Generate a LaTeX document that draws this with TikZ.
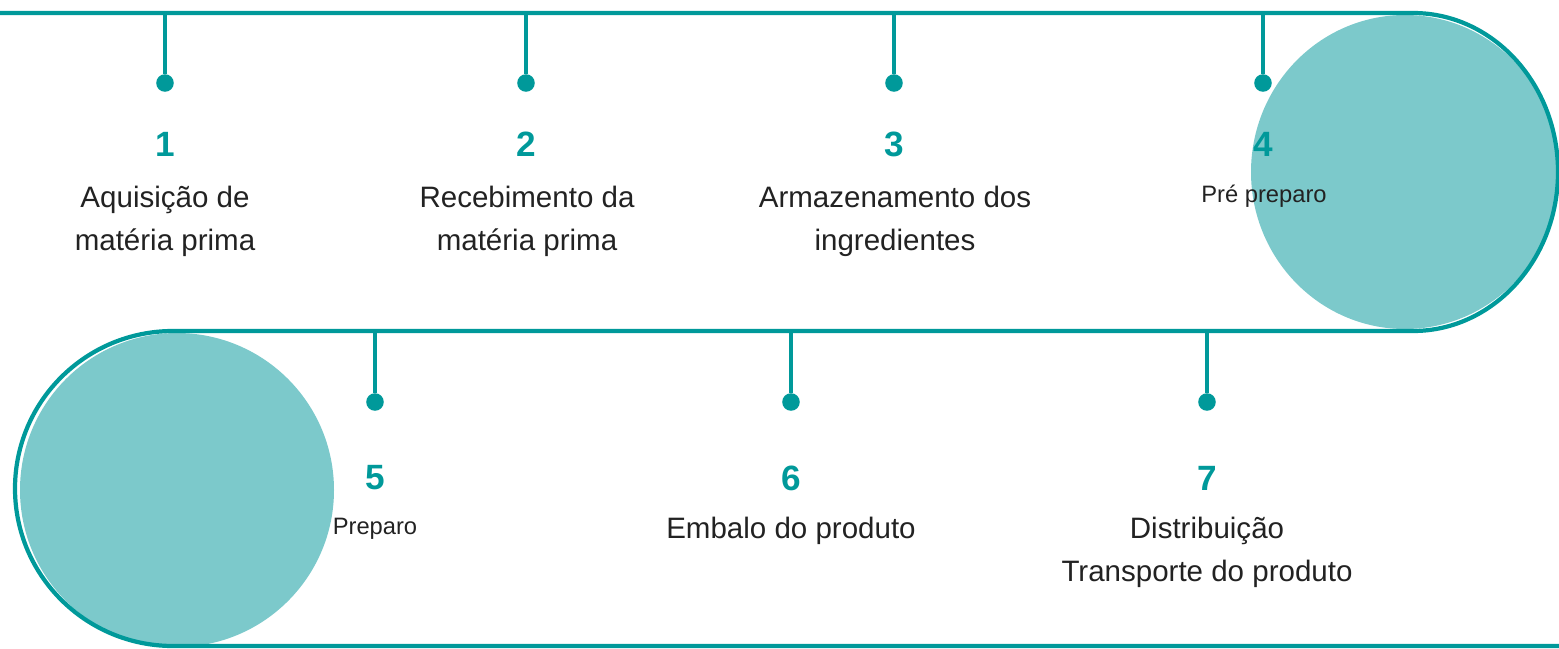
\documentclass[tikz,border=0pt]{standalone}
\usepackage{fontspec}
\setmainfont{Liberation Sans}
\definecolor{tealline}{HTML}{00999A}
\definecolor{tealfill}{HTML}{7CC9CB}
\definecolor{txtgray}{HTML}{222222}

\begin{document}
\begin{tikzpicture}[x=0.02cm, y=0.02cm,
	track/.style={tealline, line width=2.4pt},
	stem/.style={tealline, line width=2.2pt},
	dot/.style={circle, fill=tealline, inner sep=0pt, minimum size=10pt},
	num/.style={text=tealline, font=\fontsize{20}{24}\selectfont\bfseries},
	lbl/.style={text=txtgray, align=center, font=\fontsize{16.8}{24.4}\selectfont},
	smalllbl/.style={text=txtgray, font=\fontsize{13.5}{16}\selectfont}]
		\useasboundingbox (0,0) rectangle (1559,-649);
		\clip (0,0) rectangle (1559,-649);
		%big circles
		\fill[tealfill] (1405,-172) ellipse [x radius=154, y radius=157];
		\fill[tealfill] (177,-490) circle [radius=157];
		
		%track
		\draw[track] (0,-13) -- (1413,-13)
			arc[start angle=90, end angle=-90, x radius=145, y radius=159]
			-- (173,-331)
			arc[start angle=90, end angle=270, x radius=158, y radius=157.5]
			-- (1559,-646);
		
		%upper steps
		\foreach \i/\x in {1/165, 2/526, 3/894, 4/1263}{
			\coordinate (t\i) at (\x,-13);
			\node[dot] (dot\i) at (\x,-83){};
			\draw[stem] (t\i) -- (dot\i);
			\node[num] (num\i) at (\x,-144){\i};
		}
		%lower steps
		\foreach \i/\x in {5/375, 6/791, 7/1207}{
			\coordinate (t\i) at (\x,-332);
			\node[dot] (dot\i) at (\x,-402){};
			\draw[stem] (t\i) -- (dot\i);
			\node[num] (num\i) at (\x,-478){\i};
		}
		
		\node[lbl] (lbl1) at (165,-221){Aquisição de\\matéria prima};
		\node[lbl] (lbl2) at (527,-221){Recebimento da\\matéria prima};
		\node[lbl] (lbl3) at (895,-221){Armazenamento dos\\ingredientes};
		\node[smalllbl] (lbl4) at (1264,-196){Pré preparo};
		\node[smalllbl] (lbl5) at (375,-529){Preparo};
		\node[lbl] (lbl6) at (791,-531){Embalo do produto};
		\node[lbl] (lbl7) at (1207,-552){Distribuição\\Transporte do produto};
\end{tikzpicture}
\end{document}
